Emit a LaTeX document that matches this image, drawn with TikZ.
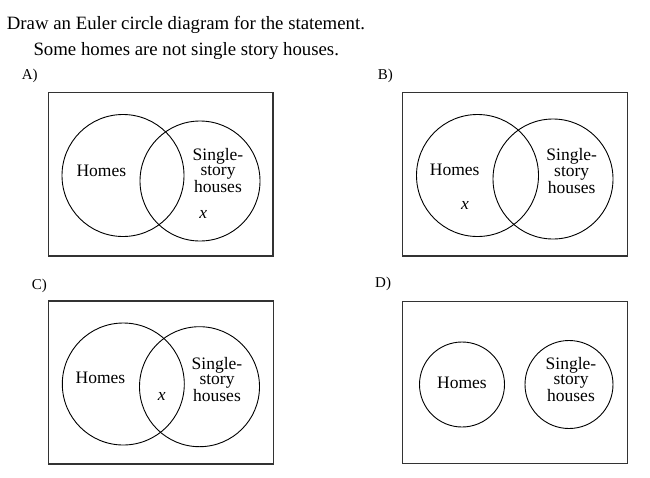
\documentclass[tikz,border=0pt]{standalone}
\usepackage{fontspec}
\setmainfont{Liberation Serif}
\begin{document}
\begin{tikzpicture}[x=1pt,y=-1pt,
    frame/.style={draw,line width=1.2pt,black!80},
    set/.style={circle,draw,line width=0.9pt,inner sep=0pt},
    lbl/.style={anchor=base,inner sep=0pt,align=center,font=\fontsize{17.5}{15.5}\selectfont},
    elt/.style={anchor=base,inner sep=0pt,font=\fontsize{17.5}{15.5}\selectfont\itshape},
    tag/.style={anchor=base west,inner sep=0pt,font=\fontsize{15}{18}\selectfont},
    head/.style={anchor=base west,inner sep=0pt,font=\fontsize{18.8}{22}\selectfont}]
  \useasboundingbox (0,0) rectangle (650,477);
  \node[head] (task) at (6.7,29.3) {Draw an Euler circle diagram for the statement.};
  \node[head] (claim) at (33.3,55) {Some homes are not single story houses.};
  % A)
  \node[tag] (tagA) at (21.7,79) {A)};
  \draw[frame] (48.3,92.3) rectangle (273,256);
  \node[set,minimum size=122pt] (homesA) at (123,175.5) {};
  \node[set,minimum size=120pt] (storyA) at (200,181) {};
  \node[lbl] (homesA-t) at (101.3,176) {Homes};
  \node[lbl] (storyA-t) at (218,192.7) {Single-\\story\\houses};
  \node[elt] (xA) at (203.3,218) {x};
  % B)
  \node[tag] (tagB) at (377.7,79) {B)};
  \draw[frame] (402.7,92.3) rectangle (627.7,256);
  \node[set,minimum size=122pt] (homesB) at (477.5,175.5) {};
  \node[set,minimum size=120pt] (storyB) at (553,179) {};
  \node[lbl] (homesB-t) at (454.7,175) {Homes};
  \node[lbl] (storyB-t) at (571.7,193.3) {Single-\\story\\houses};
  \node[elt] (xB) at (465,209.3) {x};
  % C)
  \node[tag] (tagC) at (31.7,289) {C)};
  \draw[frame] (48.3,301) rectangle (273.3,464);
  \node[set,minimum size=122pt] (homesC) at (123.3,384) {};
  \node[set,minimum size=120pt] (storyC) at (199.5,386.7) {};
  \node[lbl] (homesC-t) at (100.5,383.3) {Homes};
  \node[lbl] (storyC-t) at (217,401.7) {Single-\\story\\houses};
  \node[elt] (xC) at (161.7,400) {x};
  % D)
  \node[tag] (tagD) at (375,287.3) {D)};
  \draw[frame] (402.7,301.7) rectangle (627.3,463.3);
  \node[set,minimum size=85pt] (homesD) at (462,384.5) {};
  \node[set,minimum size=88pt] (storyD) at (569,384.5) {};
  \node[lbl] (homesD-t) at (462,388.3) {Homes};
  \node[lbl] (storyD-t) at (571,401.7) {Single-\\story\\houses};
\end{tikzpicture}
\end{document}
